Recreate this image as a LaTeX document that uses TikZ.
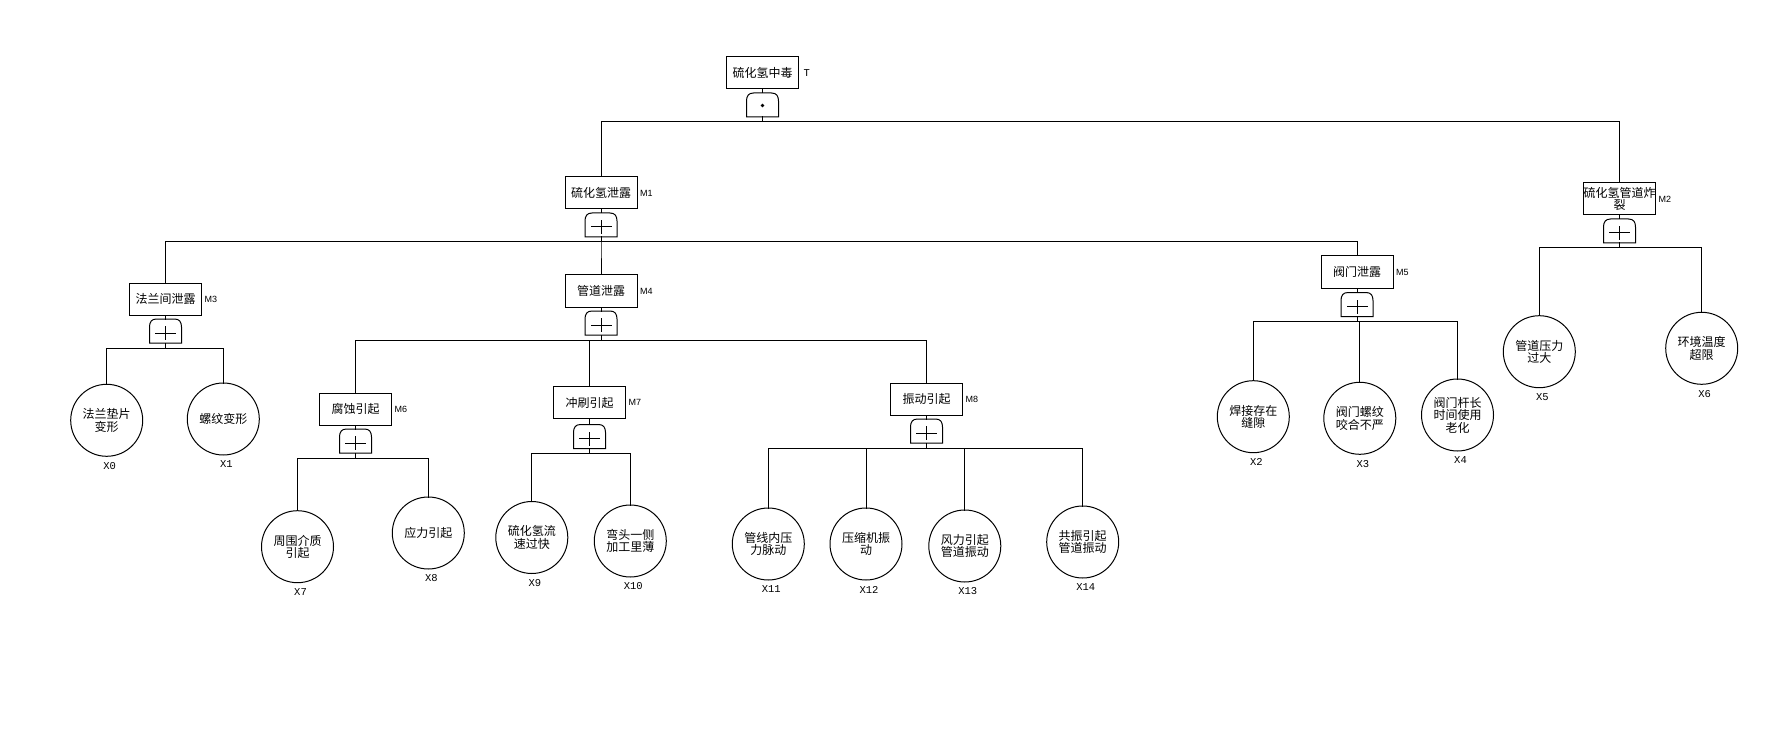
\documentclass[tikz,border=0pt]{standalone}
\usepackage{fontspec}
\newfontfamily\cjk{Noto Sans CJK SC}
\newfontfamily\tagfont{Liberation Sans}
\newfontfamily\xfont{Liberation Mono}
\tikzset{
  conn/.style={line width=1pt, line cap=rect},
  ev/.style={draw, line width=1pt, minimum width=72pt, minimum height=32pt, inner sep=0pt, outer sep=0pt,
    font=\cjk\fontsize{12}{12}\selectfont, align=center},
  leaf/.style={draw, circle, line width=1pt, minimum size=72pt, inner sep=0pt, outer sep=0pt,
    font=\cjk\fontsize{12}{12.5}\selectfont, align=center},
  gatenode/.style={minimum width=32pt, minimum height=24pt, inner sep=0pt, outer sep=0pt},
  tag/.style={font=\tagfont\fontsize{9}{9}\selectfont, inner sep=0pt, anchor=west},
  xtag/.style={font=\xfont\fontsize{10.5}{10.5}\selectfont, inner sep=0pt},
}
\newcommand\gateshape[1]{%
  \draw[conn] (#1.south west) -- ([yshift=-8pt]#1.north west)
    .. controls ([yshift=-3pt]#1.north west) and ([xshift=2pt]#1.north west) .. ([xshift=7pt]#1.north west)
    -- ([xshift=-7pt]#1.north east)
    .. controls ([xshift=-2pt]#1.north east) and ([yshift=-3pt]#1.north east) .. ([yshift=-8pt]#1.north east)
    -- (#1.south east) -- cycle;}
\newcommand\orsym[1]{%
  \draw[conn] ([xshift=-10pt,yshift=-2pt]#1.center) -- ([xshift=10pt,yshift=-2pt]#1.center);
  \draw[conn] ([yshift=4.5pt]#1.center) -- ([yshift=-8.5pt]#1.center);}
\begin{document}
\begin{tikzpicture}[x=1pt,y=-1pt]
\useasboundingbox (0,0) rectangle (1789,730);
% ---- events
\node[ev] (T)  at (762.5,73) {硫化氢中毒};
\node[ev] (M1) at (601,193) {硫化氢泄露};
\node[ev] (M2) at (1619.5,199) {硫化氢管道炸\\裂};
\node[ev] (M3) at (165.5,299) {法兰间泄露};
\node[ev] (M4) at (601,291) {管道泄露};
\node[ev] (M5) at (1357,272) {阀门泄露};
\node[ev] (M6) at (355.5,409) {腐蚀引起};
\node[ev] (M7) at (589.5,402.5) {冲刷引起};
\node[ev] (M8) at (926.5,399) {振动引起};
% ---- tags
\node[xtag, anchor=west] (tT) at ([xshift=5pt]T.east) {T};
\node[tag] (t1) at ([xshift=3pt]M1.east) {M1};
\node[tag] (t2) at ([xshift=3pt]M2.east) {M2};
\node[tag] (t3) at ([xshift=3pt]M3.east) {M3};
\node[tag] (t4) at ([xshift=3pt]M4.east) {M4};
\node[tag] (t5) at ([xshift=3pt]M5.east) {M5};
\node[tag] (t6) at ([xshift=3pt]M6.east) {M6};
\node[tag] (t7) at ([xshift=3pt]M7.east) {M7};
\node[tag] (t8) at ([xshift=3pt]M8.east) {M8};
% ---- gates
\node[gatenode] (gT) at (762.5,105) {};
\node[gatenode] (g1) at (601,225) {};
\node[gatenode] (g2) at (1619.5,231) {};
\node[gatenode] (g3) at (165.5,331) {};
\node[gatenode] (g4) at (601,323) {};
\node[gatenode] (g5) at (1357,304.5) {};
\node[gatenode] (g6) at (355.5,441) {};
\node[gatenode] (g7) at (589.5,436.5) {};
\node[gatenode] (g8) at (926.5,431) {};
\gateshape{gT}
\fill ([yshift=-0.5pt]gT.center) circle (1.8pt);
\foreach \g in {g1,g2,g3,g4,g5,g6,g7,g8}{\gateshape{\g}\orsym{\g}}
% ---- leaves
\node[leaf] (X0)  at (106.7,420.3) {法兰垫片\\变形};
\node[leaf] (X1)  at (223.3,419) {螺纹变形};
\node[leaf] (X7)  at (297.5,546.7) {周围介质\\引起};
\node[leaf] (X8)  at (428.3,533) {应力引起};
\node[leaf] (X9)  at (531.8,537.5) {硫化氢流\\速过快};
\node[leaf] (X10) at (630.3,541) {弯头一侧\\加工里薄};
\node[leaf] (X11) at (768.3,544) {管线内压\\力脉动};
\node[leaf] (X12) at (866,544) {压缩机振\\动};
\node[leaf] (X13) at (964.8,546) {风力引起\\管道振动};
\node[leaf] (X14) at (1082.7,542) {共振引起\\管道振动};
\node[leaf] (X2)  at (1253.3,416.7) {焊接存在\\缝隙};
\node[leaf] (X3)  at (1359.8,418.3) {阀门螺纹\\咬合不严};
\node[leaf] (X4)  at (1457.5,415) {阀门杆长\\时间使用\\老化};
\node[leaf] (X5)  at (1539.3,351.7) {管道压力\\过大};
\node[leaf] (X6)  at (1701.7,348.3) {环境温度\\超限};
\foreach \n in {X0,X1,X2,X3,X4,X5,X6,X7,X8,X9,X10,X11,X12,X13,X14}{
  \node[xtag] (l\n) at ([xshift=3pt,yshift=-45.5pt]\n.center) {\n};}
% ---- connectors
\foreach \e/\g in {T/gT,M1/g1,M2/g2,M3/g3,M4/g4,M5/g5,M6/g6,M7/g7,M8/g8}{
  \draw[conn] (\e.south) -- (\g.north);}
\foreach \g/\c in {gT/M1,gT/M2,g1/M3,g1/M4,g1/M5,g2/X5,g2/X6,g3/X0,g3/X1,
  g4/M6,g4/M7,g4/M8,g5/X2,g5/X3,g5/X4,g6/X7,g6/X8,g7/X9,g7/X10,
  g8/X11,g8/X12,g8/X13,g8/X14}{
  \draw[conn] (\g.south) -- ++(0,5) -| (\c.north);}
\end{tikzpicture}
\end{document}
